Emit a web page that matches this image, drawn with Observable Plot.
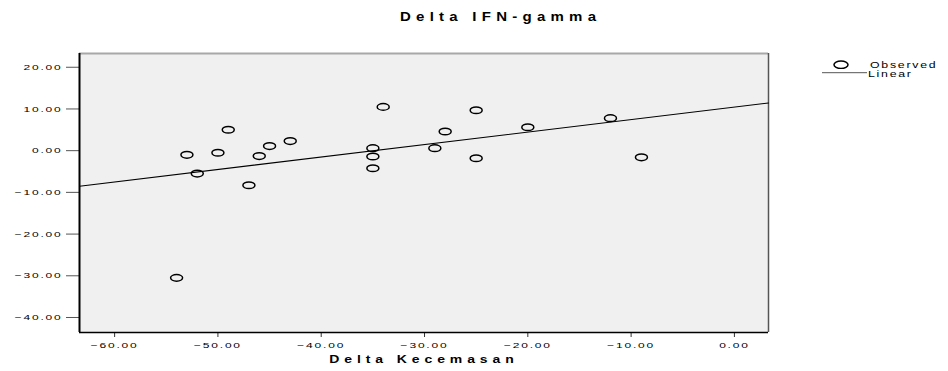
<!DOCTYPE html>
<html><head><meta charset="utf-8">
<script src="https://cdn.jsdelivr.net/npm/d3@7"></script>
<script src="https://cdn.jsdelivr.net/npm/@observablehq/plot@0.6"></script>
<style>
body{margin:0;background:#fff;font-family:"Liberation Sans",Arial,sans-serif;}
#wrap{position:relative;width:948px;height:371px;overflow:hidden;}
#title{position:absolute;left:400px;top:10px;font-weight:bold;font-size:12px;letter-spacing:4.2px;transform:scaleX(1.25);transform-origin:0 0;white-space:nowrap;color:#000;}
#legend{position:absolute;left:815px;top:55px;overflow:visible;}
#chart svg{display:block;}
</style></head><body>
<div id="wrap">
<div id="chart"></div>
<div id="title"></div>
<svg id="legend" width="133" height="30"></svg>
</div>
<script>
// Data
const anxietyDelta = [-54, -53, -52, -50, -49, -47, -46, -45, -43, -35, -35, -35, -34, -29, -28, -25, -25, -20, -12, -9];
const ifnDelta     = [-30.5, -1.0, -5.5, -0.5, 5.0, -8.3, -1.3, 1.1, 2.3, 0.6, -1.4, -4.2, 10.5, 0.6, 4.6, 9.7, -1.8, 5.6, 7.8, -1.6];
const xTicks = [-60, -50, -40, -30, -20, -10, 0];
const yTicks = [20, 10, 0, -10, -20, -30, -40];
const xDomain = [-63.4, 3.3];
const yDomain = [-43.6, 23.3];
const titleText = "Delta IFN-gamma";
const xLabel = "Delta Kecemasan";
const legendLabels = ["Observed", "Linear"];

const points = anxietyDelta.map((x, i) => ({x, y: ifnDelta[i]}));

// least-squares linear fit
const mx = d3.mean(anxietyDelta), my = d3.mean(ifnDelta);
const sxy = d3.sum(points, p => (p.x - mx) * (p.y - my));
const sxx = d3.sum(points, p => (p.x - mx) ** 2);
const slope = sxy / sxx, intercept = my - slope * mx;
const fitLine = xDomain.map(x => ({x, y: intercept + slope * x}));

const ellipse = {
  draw(ctx) {
    const rx = 6, ry = 3.3, k = 0.5523;
    ctx.moveTo(rx, 0);
    ctx.bezierCurveTo(rx, ry * k, rx * k, ry, 0, ry);
    ctx.bezierCurveTo(-rx * k, ry, -rx, ry * k, -rx, 0);
    ctx.bezierCurveTo(-rx, -ry * k, -rx * k, -ry, 0, -ry);
    ctx.bezierCurveTo(rx * k, -ry, rx, -ry * k, rx, 0);
    ctx.closePath();
  }
};
const fmt = d3.format(".2f");

const chart = Plot.plot({
  width: 948, height: 371,
  marginLeft: 79, marginRight: 180, marginTop: 53, marginBottom: 39,
  style: {fontFamily: "'Liberation Sans', Arial, sans-serif", fontSize: "8px", background: "transparent", color: "#000"},
  x: {domain: xDomain},
  y: {domain: yDomain},
  marks: [
    Plot.frame({fill: "#f0f0f0", stroke: null}),
    Plot.ruleY([yDomain[1]], {stroke: "#a8a8a8", strokeWidth: 2}),
    Plot.ruleX([xDomain[1]], {stroke: "#555", strokeWidth: 1.5}),
    Plot.line(fitLine, {x: "x", y: "y", stroke: "#000", strokeWidth: 1.1}),
    Plot.dot(points, {x: "x", y: "y", symbol: ellipse, stroke: "#000", strokeWidth: 1.5, fill: "none"}),
    Plot.axisX(xTicks, {tickSize: 5, tickPadding: 5, tickFormat: fmt, stroke: "#333", fill: "#000", label: null, fontSize: 8}),
    Plot.axisY(yTicks, {tickSize: 13, tickPadding: 4, tickFormat: fmt, stroke: "#555", fill: "#000", label: null, fontSize: 8}),
    Plot.ruleX([xDomain[0]], {stroke: "#000", strokeWidth: 2}),
    Plot.ruleY([yDomain[0]], {stroke: "#000", strokeWidth: 1.5}),
    Plot.text([xLabel], {frameAnchor: "bottom", dy: 30, fontWeight: "bold", fontSize: 10, fill: "#000"})
  ]
});
document.getElementById("chart").appendChild(chart);

// horizontally stretched glyphs like the original
function stretch(t, k, spacing) {
  const x = +t.getAttribute("x") || 0;
  const tr = t.getAttribute("transform") || "";
  t.setAttribute("transform", `${tr} translate(${x},0) scale(${k},1) translate(${-x},0)`);
  t.style.letterSpacing = spacing + "px";
}
chart.querySelectorAll("text").forEach(t => {
  if (t.textContent === xLabel) stretch(t, 1.4, 3.5);
  else stretch(t, 1.5, 1.2);
});

// legend
const lg = d3.select("#legend");
lg.append("path").attr("d", (() => { const p = d3.path(); ellipse.draw(p); return p.toString(); })())
  .attr("transform", "translate(26,9.7) scale(1.17,1.12)").attr("fill", "none").attr("stroke", "#000").attr("stroke-width", 1.3);
lg.append("line").attr("x1", 7).attr("x2", 52).attr("y1", 17.7).attr("y2", 17.7).attr("stroke", "#555").attr("stroke-width", 1);
lg.append("text").text(legendLabels[0]).attr("transform", "translate(55,13.3) scale(1.45,1)")
  .attr("font-size", 8.5).attr("letter-spacing", 1.2).attr("font-family", "'Liberation Sans', Arial, sans-serif");
lg.append("text").text(legendLabels[1]).attr("transform", "translate(53,22.3) scale(1.45,1)")
  .attr("font-size", 8.5).attr("letter-spacing", 1.2).attr("font-family", "'Liberation Sans', Arial, sans-serif");
document.getElementById("title").textContent = titleText;
</script>
</body></html>
